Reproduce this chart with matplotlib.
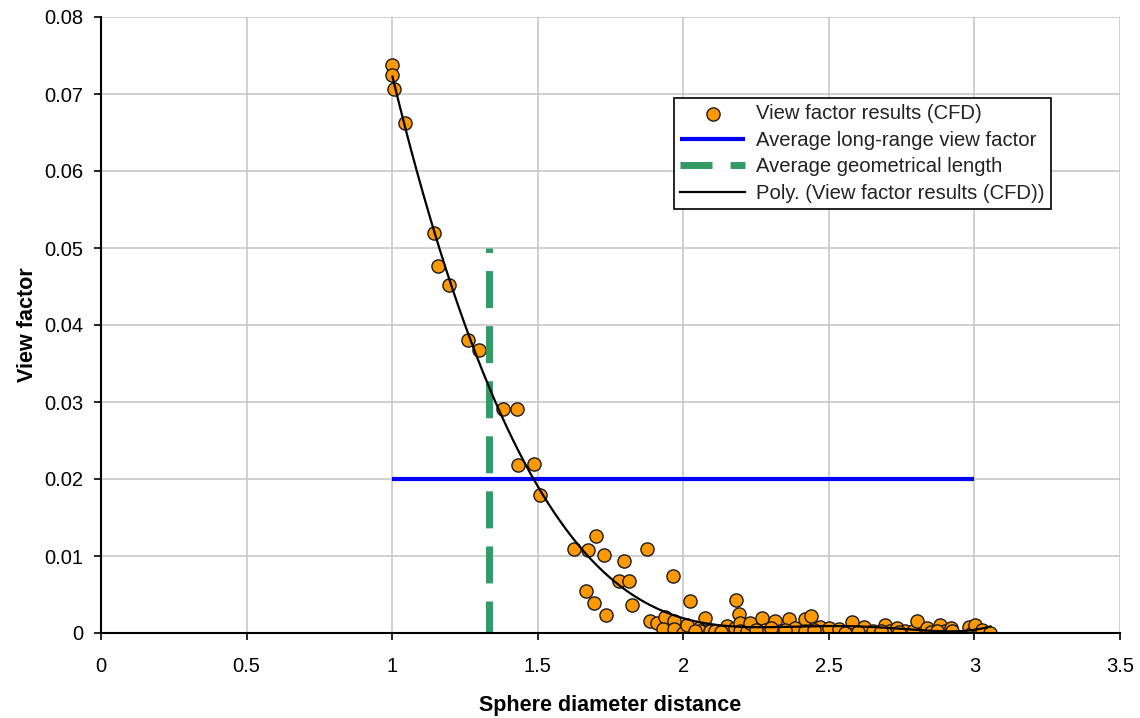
import numpy as np
import matplotlib
matplotlib.use("Agg")
import matplotlib.pyplot as plt

plt.rcParams['font.family'] = ['Liberation Sans', 'DejaVu Sans']

# CFD view-factor results (sphere diameter distance, view factor)
x_cfd = [1.001, 1.001, 1.005, 1.045, 1.144, 1.156, 1.197, 1.262, 1.299, 1.380,
         1.428, 1.434, 1.488, 1.509,
         1.623, 1.672, 1.700, 1.726, 1.875, 1.797, 1.780, 1.814, 1.963, 1.666,
         1.694, 1.734, 1.825, 2.024,
         1.887, 1.909, 1.938, 1.967, 1.932, 1.967, 1.999, 2.013, 2.053, 2.076,
         2.059, 2.093, 2.150, 2.179, 2.182, 2.190, 2.196, 2.196, 2.219, 2.230,
         2.270, 2.282, 2.316, 2.333, 2.362, 2.385, 2.419, 2.419, 2.440, 2.471,
         2.488, 2.499, 2.534, 2.557, 2.580, 2.620, 2.650, 2.694, 2.710, 2.734,
         2.760, 2.790, 2.803, 2.838, 2.850, 2.883, 2.900, 2.918, 2.923, 2.980,
         2.993, 3.003, 3.026, 3.055,
         2.600, 2.680, 2.740, 2.870, 2.040, 2.110, 2.130, 2.250, 2.300, 2.350,
         2.450]
y_cfd = [0.0738, 0.0725, 0.0706, 0.0662, 0.0519, 0.0477, 0.0452, 0.0381, 0.0367, 0.0291,
         0.0291, 0.0218, 0.0220, 0.0179,
         0.0109, 0.0108, 0.0126, 0.0101, 0.0109, 0.0093, 0.0068, 0.0067, 0.0074, 0.0055,
         0.0039, 0.0023, 0.0037, 0.0041,
         0.0015, 0.0013, 0.0021, 0.0016, 0.0005, 0.0005, 0.0000, 0.0011, 0.0007, 0.0019,
         0.0002, 0.0002, 0.0009, 0.0006, 0.0043, 0.0025, 0.0013, 0.0002, 0.0002, 0.0013,
         0.0019, 0.0004, 0.0015, 0.0002, 0.0018, 0.0006, 0.0018, 0.0002, 0.0022, 0.0008,
         0.0002, 0.0006, 0.0005, 0.0000, 0.0014, 0.0008, 0.0002, 0.0010, 0.0002, 0.0006,
         0.0002, 0.0002, 0.0015, 0.0006, 0.0001, 0.0010, 0.0002, 0.0006, 0.0002, 0.0008,
         0.0000, 0.0011, 0.0004, 0.0000,
         0.0001, 0.0003, 0.0001, 0.0003, 0.0003, 0.0003, 0.0001, 0.0004, 0.0006, 0.0004,
         0.0004]

# Average long-range view factor (horizontal line)
avg_vf_x = [1.0, 3.0]
avg_vf_y = [0.02, 0.02]
# Average geometrical length (vertical dashed line)
geo_x = [1.334, 1.334]
geo_y = [0.0, 0.05]

poly_order = 6

x_ticks = [0, 0.5, 1, 1.5, 2, 2.5, 3, 3.5]
x_ticklabels = ['0', '0.5', '1', '1.5', '2', '2.5', '3', '3.5']
y_ticks = [0, 0.01, 0.02, 0.03, 0.04, 0.05, 0.06, 0.07, 0.08]
y_ticklabels = ['0', '0.01', '0.02', '0.03', '0.04', '0.05', '0.06', '0.07', '0.08']

fig = plt.figure(figsize=(11.4, 7.18), dpi=100)
ax = fig.add_axes([101 / 1140, 1 - 633 / 718, (1120 - 101) / 1140, (633 - 17) / 718])

xc = np.array(x_cfd)
yc = np.array(y_cfd)
coef = np.polyfit(xc, yc, poly_order)
xf = np.linspace(xc.min(), xc.max(), 300)
yf = np.polyval(coef, xf)

ax.scatter(xc, yc, s=90, facecolor='#FF9900', edgecolor='#1a1a1a', linewidth=1.0,
           zorder=3, label='View factor results (CFD)')
ax.plot(avg_vf_x, avg_vf_y, color='#0000FF', lw=3, zorder=4, solid_capstyle='butt',
        label='Average long-range view factor')
ax.plot(geo_x, geo_y, color='#339966', lw=5, linestyle=(0.72, (5.33, 2.6)), zorder=4,
        solid_capstyle='butt', dash_capstyle='butt', label='Average geometrical length')
ax.plot(xf, yf, color='black', lw=1.6, zorder=5, label='Poly. (View factor results (CFD))')

ax.set_xlim(0, 3.5)
ax.set_ylim(0, 0.08)
ax.set_xticks(x_ticks)
ax.set_xticklabels(x_ticklabels)
ax.set_yticks(y_ticks)
ax.set_yticklabels(y_ticklabels)
ax.grid(True, color='#C8C8C8', lw=1.2, zorder=0)
ax.set_axisbelow(True)
for s in ['top', 'right']:
    ax.spines[s].set_visible(False)
for s in ['left', 'bottom']:
    ax.spines[s].set_linewidth(1.5)
    ax.spines[s].set_color('black')
    ax.spines[s].set_zorder(6)
ax.tick_params(direction='out', length=5, width=1.2, labelsize=14.5, pad=8)
ax.tick_params(axis='x', pad=12)

ax.set_xlabel('Sphere diameter distance', fontsize=15.5, fontweight='bold', labelpad=14)
ax.set_ylabel('View factor', fontsize=15.5, fontweight='bold', labelpad=4)

leg = ax.legend(loc='upper left', bbox_to_anchor=((674 - 101) / 1019, 1 - (98 - 17) / 616),
                fontsize=14.6, frameon=True, fancybox=False, edgecolor='black',
                framealpha=1, handlelength=3.2, handletextpad=0.55, borderpad=0.3,
                labelspacing=0.38, borderaxespad=0)
leg.get_frame().set_linewidth(1.2)
for t in leg.get_texts():
    t.set_color('#222222')

fig.savefig('out.png', dpi=100)
